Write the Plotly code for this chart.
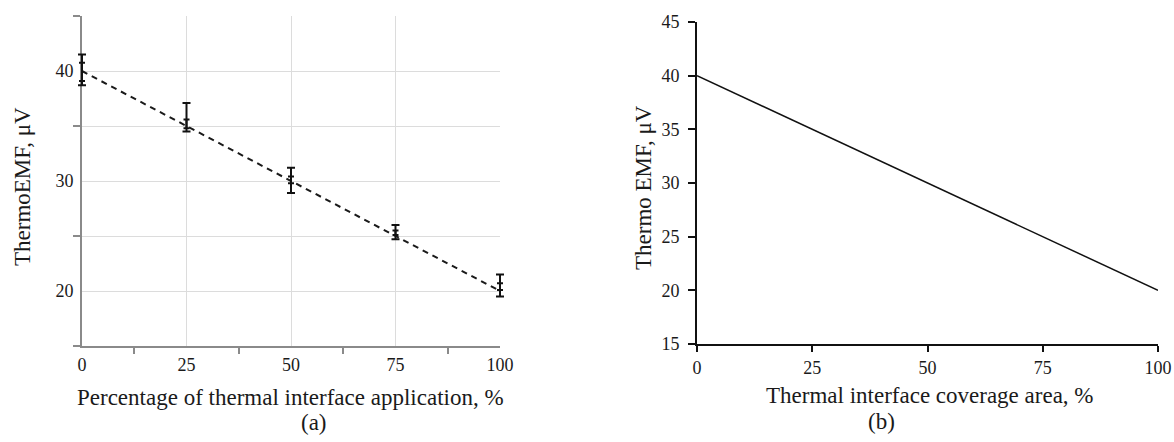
import plotly.graph_objects as go

# ---------------- data ----------------
# panel (a): measurements with error bars
pct_a = [0, 25, 50, 75, 100]
emf_a = [40.0, 35.2, 30.0, 25.2, 20.3]
err_outer_up = [41.5, 37.1, 31.2, 26.0, 21.5]
err_outer_lo = [38.7, 34.5, 28.9, 24.7, 19.5]
err_inner_up = [40.75, 35.6, 30.4, 25.5, 20.7]
err_inner_lo = [39.1, 34.8, 29.8, 25.1, 20.1]
trend_x = [0, 100]
trend_y = [40.0, 20.0]

# panel (b): linear dependence
pct_b = [0, 25, 50, 75, 100]
emf_b = [40, 35, 30, 25, 20]

x_ticks = [0, 25, 50, 75, 100]
x_minor_a = [12.5, 37.5, 62.5, 87.5]
y_ticks_a = [20, 30, 40]
y_minor_a = [15, 25, 35, 45]
y_ticks_b = [15, 20, 25, 30, 35, 40, 45]

FONT = "Liberation Serif"
TXT = "#1a1a1a"
GRID = "#dcdcdc"

W, H = 1174, 442
def px_x(p): return p / W
def px_y(p): return (H - p) / H

# panel (a) pixel frame
AX0, AX1 = 82, 500
PAD = 3  # extra data units so edge error bars are not clipped
scale_a = (AX1 - AX0) / 100.0

fig = go.Figure()

# dashed trend line (a)
fig.add_trace(go.Scatter(x=trend_x, y=trend_y, mode="lines",
                         line=dict(color="#1a1a1a", width=2, dash="6px,5px"),
                         xaxis="x", yaxis="y", showlegend=False, cliponaxis=False))

def errbars(up, lo, width):
    return dict(type="data", symmetric=False,
                array=[u - m for u, m in zip(up, emf_a)],
                arrayminus=[m - l for m, l in zip(emf_a, lo)],
                color="#111111", thickness=2, width=width)

fig.add_trace(go.Scatter(x=pct_a, y=emf_a, mode="markers",
                         marker=dict(size=1, color="rgba(0,0,0,0)"),
                         error_y=errbars(err_outer_up, err_outer_lo, 4),
                         xaxis="x3", yaxis="y3", showlegend=False, cliponaxis=False))
fig.add_trace(go.Scatter(x=pct_a, y=emf_a, mode="markers",
                         marker=dict(size=1, color="rgba(0,0,0,0)"),
                         error_y=errbars(err_inner_up, err_inner_lo, 3),
                         xaxis="x3", yaxis="y3", showlegend=False, cliponaxis=False))

# panel (b) line
fig.add_trace(go.Scatter(x=pct_b, y=emf_b, mode="lines",
                         line=dict(color="#111111", width=1.5),
                         xaxis="x2", yaxis="y2", showlegend=False, cliponaxis=False))

tickfont = dict(family=FONT, size=18, color=TXT)

fig.update_layout(
    template="none",
    width=W, height=H,
    margin=dict(l=0, r=0, t=0, b=0, pad=0),
    paper_bgcolor="white", plot_bgcolor="rgba(0,0,0,0)",
    font=dict(family=FONT, color=TXT),
    xaxis=dict(domain=[px_x(AX0), px_x(AX1)], range=[0, 100], anchor="y", automargin=False,
               tickmode="array", tickvals=x_ticks, ticks="outside", ticklen=0,
               tickfont=tickfont, ticklabelstandoff=1,
               showgrid=True, gridcolor=GRID, gridwidth=1,
               showline=True, linecolor="#8a8a8a", linewidth=2,
               zeroline=False, layer="below traces",
               minor=dict(tickmode="array", tickvals=x_minor_a, ticks="outside",
                          ticklen=6, tickwidth=1.5, tickcolor="#8a8a8a", showgrid=False)),
    yaxis=dict(domain=[px_y(346), px_y(16)], range=[15, 45], anchor="x", automargin=False,
               tickmode="array", tickvals=y_ticks_a, ticks="outside", ticklen=0,
               tickfont=tickfont, ticklabelstandoff=3,
               showgrid=True, gridcolor=GRID, gridwidth=1,
               showline=True, linecolor="#8a8a8a", linewidth=2,
               zeroline=False, layer="below traces",
               minor=dict(tickmode="array", tickvals=y_minor_a, ticks="outside",
                          ticklen=7, tickwidth=1.5, tickcolor="#8a8a8a",
                          showgrid=True, gridcolor=GRID, gridwidth=1)),
    # invisible wider frame for the error bars of panel (a), same pixel scale
    xaxis3=dict(domain=[px_x(AX0 - PAD * scale_a), px_x(AX1 + PAD * scale_a)],
                range=[-PAD, 100 + PAD], anchor="y3", visible=False, automargin=False,
                showgrid=False, zeroline=False),
    yaxis3=dict(domain=[px_y(346), px_y(16)], range=[15, 45], anchor="x3",
                visible=False, automargin=False, showgrid=False, zeroline=False),
    xaxis2=dict(domain=[px_x(697), px_x(1158)], range=[0, 100], anchor="y2", automargin=False,
                tickmode="array", tickvals=x_ticks, ticks="outside", ticklen=6,
                tickwidth=2, tickcolor="#111111",
                tickfont=tickfont, ticklabelstandoff=0,
                showgrid=False, showline=True, linecolor="#111111", linewidth=2,
                zeroline=False),
    yaxis2=dict(domain=[px_y(344), px_y(22)], range=[15, 45], anchor="x2", automargin=False,
                tickmode="array", tickvals=y_ticks_b, ticks="outside", ticklen=7,
                tickwidth=2, tickcolor="#111111",
                tickfont=tickfont, ticklabelstandoff=5,
                showgrid=False, showline=True, linecolor="#111111", linewidth=2,
                zeroline=False),
)

title_font = dict(family=FONT, size=23, color=TXT)
ann = [
    dict(text="Percentage of thermal interface application, %", x=px_x(290), y=px_y(397)),
    dict(text="Thermal interface coverage area, %", x=px_x(930), y=px_y(395)),
    dict(text="(a)", x=px_x(314), y=px_y(422)),
    dict(text="(b)", x=px_x(881), y=px_y(421)),
    dict(text="ThermoEMF, μV", x=px_x(22), y=px_y(187), textangle=-90),
    dict(text="Thermo EMF, μV", x=px_x(643), y=px_y(188), textangle=-90),
]
for a in ann:
    fig.add_annotation(xref="paper", yref="paper", showarrow=False,
                       xanchor="center", yanchor="middle", font=title_font, **a)

fig.write_html("out.html")
